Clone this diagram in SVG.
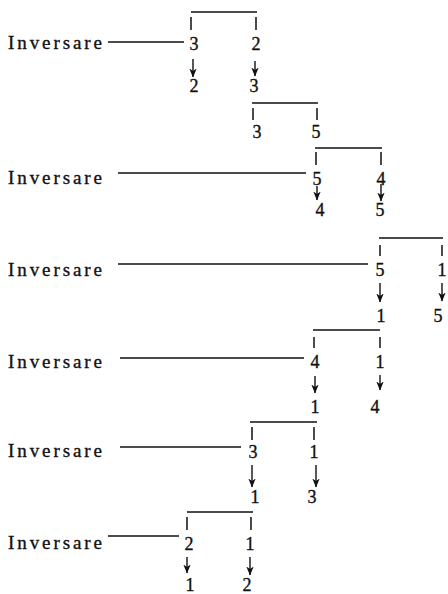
<svg xmlns="http://www.w3.org/2000/svg" width="448" height="594" viewBox="0 0 448 594">
<defs>
<style>
.lbl{font-family:"Liberation Serif","Times New Roman",serif;font-size:19px;fill:#111;stroke:#111;stroke-width:0.35}
.d{font-family:"Liberation Serif","Times New Roman",serif;font-size:18px;fill:#111;stroke:#111;stroke-width:0.35;text-anchor:middle}
.br{fill:none;stroke:#111;stroke-width:1.5}
.ld{stroke:#111;stroke-width:1.5}
.ar{stroke:#111;stroke-width:1.4;marker-end:url(#ah)}
</style>
<marker id="ah" viewBox="0 0 9 8" refX="8.5" refY="4" markerWidth="9" markerHeight="8" markerUnits="userSpaceOnUse" orient="auto">
<path d="M0,0.3 L9,4 L0,7.7 L2.5,4 Z" fill="#111"/>
</marker>
</defs>
<rect width="448" height="594" fill="#fff"/>

<g id="label1"><text class="lbl" x="8" y="49" textLength="94" lengthAdjust="spacing">Inversare</text></g>
<g id="label3"><text class="lbl" x="8" y="184" textLength="94" lengthAdjust="spacing">Inversare</text></g>
<g id="label4"><text class="lbl" x="8" y="276" textLength="94" lengthAdjust="spacing">Inversare</text></g>
<g id="label5"><text class="lbl" x="8" y="368" textLength="94" lengthAdjust="spacing">Inversare</text></g>
<g id="label6"><text class="lbl" x="8" y="457" textLength="94" lengthAdjust="spacing">Inversare</text></g>
<g id="label7"><text class="lbl" x="8" y="549" textLength="94" lengthAdjust="spacing">Inversare</text></g>

<g id="step1">
<path class="br" d="M191,30 V17 M191,12 H257 M256,17 V30"/>
<text class="d" x="194" y="50">3</text><text class="d" x="256" y="50">2</text>
<text class="d" x="194" y="92">2</text><text class="d" x="254" y="92">3</text>
</g>
<g id="step2">
<path class="br" d="M253,120 V108 M252,103 H318 M317,120 V108"/>
<text class="d" x="257" y="138">3</text><text class="d" x="316" y="138">5</text>
</g>
<g id="step3">
<path class="br" d="M316,165 V152 M315,148 H382 M381,165 V152"/>
<text class="d" x="317" y="185">5</text><text class="d" x="381" y="185">4</text>
<text class="d" x="320" y="216">4</text><text class="d" x="380" y="216">5</text>
</g>
<g id="step4">
<path class="br" d="M380,256 V245 M379,238 H443 M442,256 V245"/>
<text class="d" x="380" y="276">5</text><text class="d" x="442" y="276">1</text>
<text class="d" x="381" y="322">1</text><text class="d" x="438" y="322">5</text>
</g>
<g id="step5">
<path class="br" d="M314,348 V337 M313,330 H380 M380,348 V337"/>
<text class="d" x="315" y="368">4</text><text class="d" x="380" y="368">1</text>
<text class="d" x="315" y="413">1</text><text class="d" x="375" y="413">4</text>
</g>
<g id="step6">
<path class="br" d="M252,440 V427 M250,422 H317 M314,440 V427"/>
<text class="d" x="253" y="458">3</text><text class="d" x="314" y="458">1</text>
<text class="d" x="255" y="503">1</text><text class="d" x="312" y="503">3</text>
</g>
<g id="step7">
<path class="br" d="M187,530 V517 M187,512 H253 M251,530 V517"/>
<text class="d" x="189" y="550">2</text><text class="d" x="250" y="550">1</text>
<text class="d" x="190" y="591">1</text><text class="d" x="247" y="591">2</text>
</g>

<g id="connectors">
<line class="ld" x1="108" y1="42" x2="184" y2="42"/>
<line class="ld" x1="118" y1="173" x2="306" y2="173"/>
<line class="ld" x1="118" y1="264" x2="368" y2="264"/>
<line class="ld" x1="120" y1="358" x2="304" y2="358"/>
<line class="ld" x1="120" y1="447" x2="241" y2="447"/>
<line class="ld" x1="108" y1="536" x2="179" y2="536"/>

<line class="ar" x1="193" y1="59" x2="193" y2="77"/>
<line class="ar" x1="255" y1="61" x2="255" y2="76"/>
<line class="ar" x1="317" y1="186" x2="317" y2="200"/>
<line class="ar" x1="381" y1="184" x2="381" y2="201"/>
<line class="ar" x1="380" y1="283" x2="380" y2="302"/>
<line class="ar" x1="442" y1="283" x2="442" y2="301"/>
<line class="ar" x1="315" y1="376" x2="315" y2="393"/>
<line class="ar" x1="380" y1="375" x2="380" y2="390"/>
<line class="ar" x1="252" y1="465" x2="252" y2="487"/>
<line class="ar" x1="316" y1="465" x2="316" y2="487"/>
<line class="ar" x1="187" y1="557" x2="187" y2="573"/>
<line class="ar" x1="250" y1="557" x2="250" y2="575"/>
</g>
</svg>
